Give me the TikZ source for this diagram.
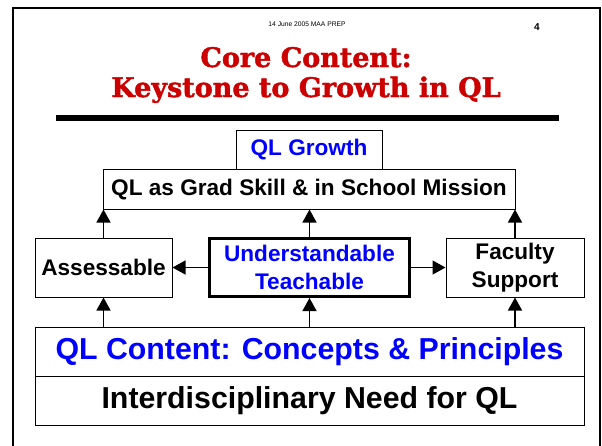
\documentclass[tikz,border=0pt]{standalone}
\usepackage{fontspec}
\setmainfont{Liberation Sans}
\newfontfamily\slabfont{DejaVu Serif}[BoldFeatures={FakeBold=1.6}]
\usetikzlibrary{arrows.meta}
\definecolor{titlered}{RGB}{204,0,0}
\definecolor{qlblue}{RGB}{0,0,255}

\begin{document}
\begin{tikzpicture}[x=1pt,y=-1pt,
    box/.style={draw,line width=1pt,inner sep=0pt,align=center,font=\bfseries\fontsize{22.6}{27.5}\selectfont},
    bigbox/.style={box,minimum width=549pt,minimum height=49pt,font=\bfseries\fontsize{30.3}{34}\selectfont},
    title/.style={anchor=base,text=titlered,inner sep=0pt,font=\slabfont\bfseries\fontsize{27}{30}\selectfont},
    up/.style={line width=1.4pt,-{Triangle[length=13pt,width=14pt]}}]

    \useasboundingbox (0,0) rectangle (602,445);
    \draw[line width=2.5pt] (13,450) -- (13,8) -- (600,8) -- (600,450);
    \node[font=\fontsize{6.7}{8}\selectfont] (D) at (307,24) {14 June 2005 MAA PREP};
    \node[font=\bfseries\fontsize{10}{12}\selectfont] (P) at (537,27) {4};
    \node[title] (T) at (306,67) {Core Content:};
    \node[title] (K) at (306,97) {Keystone to Growth in QL};
    \draw[line width=6pt] (56,118) -- (559,118);

    \node[box,minimum width=146pt,minimum height=39.5pt,text=qlblue] (G) at (309,149.75) {QL Growth};
    \node[box,minimum width=412pt,minimum height=39.5pt] (M) at (309,189.25) {QL as Grad Skill \& in School Mission};
    \node[box,minimum width=137pt,minimum height=59pt] (A) at (103.5,267.5) {Assessable};
    \node[box,line width=3pt,minimum width=200pt,minimum height=58pt,text=qlblue] (U) at (309.5,267.5) {Understandable\\Teachable};
    \node[box,minimum width=138pt,minimum height=59pt] (F) at (515,267.5) {Faculty\\Support};
    \node[bigbox,text=qlblue] (C) at (309.5,351.5) {QL Content: Concepts \& Principles};
    \node[bigbox] (N) at (309.5,400.5) {Interdisciplinary Need for QL};

    \draw[up] (A.north) -- (A.north |- M.south);
    \draw[up] (U.north) -- (U.north |- M.south);
    \draw[up] (F.north) -- (F.north |- M.south);
    \draw[up] (U.west) -- (A.east);
    \draw[up] (U.east) -- (F.west);
    \draw[up] (A.south |- C.north) -- (A.south);
    \draw[up] (U.south |- C.north) -- (U.south);
    \draw[up] (F.south |- C.north) -- (F.south);

\end{tikzpicture}
\end{document}
